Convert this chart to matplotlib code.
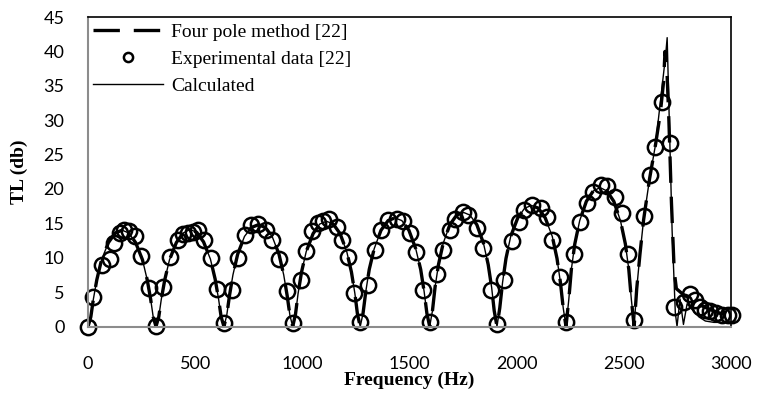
import matplotlib
matplotlib.use("Agg")
import matplotlib.pyplot as plt

# experimental data [22]
exp_freq = [0, 23, 65, 101, 121, 151, 170, 190, 218, 249, 285, 315,
            350, 382, 421, 442, 466, 490, 514, 540, 572, 600, 634,
            670, 698, 732, 758, 794, 830, 860, 891, 927, 955,
            992, 1015, 1043, 1074, 1096, 1122, 1161, 1184, 1215, 1240, 1269,
            1305, 1339, 1369, 1400, 1440, 1468, 1502, 1532, 1562, 1596,
            1627, 1658, 1690, 1714, 1751, 1775, 1814, 1845, 1879, 1907,
            1943, 1978, 2012, 2036, 2071, 2115, 2143, 2164, 2200, 2231,
            2268, 2296, 2328, 2356, 2395, 2421, 2460, 2491, 2517, 2545,
            2592, 2620, 2647, 2678, 2717, 2735, 2779, 2807, 2834, 2857,
            2880, 2903, 2931, 2958, 2984, 3005]
exp_tl = [0.0, 4.3, 9.0, 9.8, 12.1, 13.6, 14.0, 13.9, 13.1, 10.3, 5.6, 0.1,
          5.7, 10.1, 12.6, 13.4, 13.6, 13.8, 14.1, 12.6, 10.0, 5.4, 0.5,
          5.3, 10.0, 13.3, 14.8, 14.9, 14.1, 12.6, 9.8, 5.1, 0.5,
          6.8, 11.0, 13.9, 15.0, 15.3, 15.6, 14.5, 12.6, 10.1, 4.9, 0.7,
          6.0, 11.1, 14.0, 15.5, 15.7, 15.3, 13.6, 10.8, 5.3, 0.6,
          7.6, 11.1, 14.1, 15.7, 16.7, 16.2, 14.3, 11.4, 5.3, 0.3,
          6.7, 12.4, 15.2, 16.9, 17.7, 17.3, 15.9, 12.6, 7.2, 0.6,
          10.5, 15.2, 17.9, 19.6, 20.6, 20.4, 18.9, 16.5, 10.5, 0.9,
          16.0, 22.0, 26.1, 32.7, 26.7, 2.9, 3.6, 4.7, 3.9, 2.9,
          2.4, 2.2, 1.9, 1.7, 1.7, 1.7]

# four pole method [22]
fp_freq = [0, 13, 25, 41, 63, 95, 127, 159, 190, 222, 254, 276, 292, 304,
           317, 330, 342, 358, 380, 412, 444, 476, 507, 539, 571, 593, 609, 621,
           634, 647, 660, 676, 698, 730, 762, 795, 827, 859, 891, 913, 929, 942,
           955, 968, 980, 996, 1018, 1050, 1081, 1113, 1144, 1176, 1207, 1229, 1245, 1257,
           1270, 1283, 1296, 1312, 1335, 1367, 1400, 1432, 1464, 1497, 1529, 1552, 1568, 1581,
           1594, 1607, 1619, 1635, 1657, 1688, 1720, 1751, 1782, 1814, 1845, 1867, 1883, 1895,
           1908, 1921, 1934, 1950, 1972, 2005, 2037, 2069, 2101, 2133, 2166, 2188, 2204, 2217,
           2230, 2243, 2255, 2271, 2294, 2325, 2357, 2389, 2421, 2453, 2484, 2507, 2523, 2535,
           2548, 2560, 2575, 2592, 2620, 2648, 2670, 2685, 2692, 2700, 2710, 2722,
           2735, 2745, 2775, 2800, 2850, 2900, 2950, 3000]
fp_tl = [0, 1.4, 4.0, 6.8, 9.7, 12.2, 13.6, 14.0, 13.6, 12.2, 9.7, 6.8, 4.0, 1.4,
         0, 1.4, 4.0, 6.8, 9.7, 12.2, 13.6, 14.1, 13.7, 12.3, 9.8, 6.9, 4.0, 1.4,
         0, 1.6, 4.5, 7.5, 10.5, 13.1, 14.4, 14.8, 14.4, 13.1, 10.5, 7.5, 4.5, 1.6,
         0, 1.8, 4.8, 7.9, 10.9, 13.5, 14.9, 15.3, 14.9, 13.5, 10.9, 7.9, 4.8, 1.8,
         0, 1.9, 5.1, 8.3, 11.3, 14.0, 15.4, 15.8, 15.4, 14.0, 11.3, 8.3, 5.1, 1.9,
         0, 2.3, 5.7, 9.0, 12.1, 14.8, 16.2, 16.6, 16.2, 14.8, 12.1, 9.0, 5.7, 2.3,
         0, 2.7, 6.4, 9.9, 13.1, 15.8, 17.2, 17.6, 17.2, 15.8, 13.1, 9.9, 6.4, 2.7,
         0, 3.9, 8.3, 12.0, 15.4, 18.2, 19.7, 20.2, 19.7, 18.2, 15.4, 12.0, 8.3, 3.9,
         0, 5.5, 10.5, 15.5, 21.5, 26.5, 31.0, 35.5, 40.0, 38.0, 30.0, 18.0,
         8.0, 5.5, 4.7, 4.2, 3.2, 2.5, 1.9, 1.5]

# calculated
calc_freq = fp_freq[:118] + [2695, 2702, 2712, 2725, 2740, 2748, 2762, 2778,
                             2795, 2820, 2850, 2880, 2920, 3000]
calc_tl = fp_tl[:118] + [39.5, 42.0, 30.0, 14.0, 2.0, 0.0, 4.0, 0.3,
                         3.3, 2.4, 1.4, 0.8, 0.6, 0.6]

plt.rcParams['lines.scale_dashes'] = False
fig = plt.figure(figsize=(7.57, 3.93), dpi=100)
ax = fig.add_axes([0.1163, 0.1692, 0.8494, 0.7875])

ax.plot(fp_freq, fp_tl, color='black', lw=2.4, dashes=(19, 10),
        label='Four pole method [22]')
ax.plot(exp_freq, exp_tl, linestyle='none', marker='o', ms=11,
        mfc='none', mec='black', mew=1.8, clip_on=False,
        label='Experimental data [22]')
ax.plot(calc_freq, calc_tl, color='black', lw=1.0, label='Calculated')

ax.set_xlim(0, 3000)
ax.set_ylim(0, 45)
ax.set_xticks(range(0, 3001, 500))
ax.set_yticks(range(0, 46, 5))

for lab in ax.get_xticklabels() + ax.get_yticklabels():
    lab.set_family('Lato')
    lab.set_fontsize(13)
ax.tick_params(axis='both', length=0)
ax.tick_params(axis='x', pad=21)
ax.tick_params(axis='y', pad=17)

for s in ['left', 'bottom']:
    ax.spines[s].set_color('#8c8c8c')
    ax.spines[s].set_linewidth(1.5)
for s in ['top', 'right']:
    ax.spines[s].set_color('black')
    ax.spines[s].set_linewidth(1.2)

ax.set_xlabel('Frequency (Hz)', family='Liberation Serif', weight='bold',
              fontsize=14, labelpad=0)
ax.set_ylabel('TL (db)', family='Liberation Serif', weight='bold',
              fontsize=14, labelpad=11)

leg = ax.legend(loc='upper left', bbox_to_anchor=(0.008, 0.979),
                frameon=False, borderpad=0, borderaxespad=0,
                handlelength=3.6, handletextpad=0.4, labelspacing=0.48,
                markerscale=0.6, prop={'family': 'Liberation Serif', 'size': 14})

fig.savefig('out.png', dpi=100)
